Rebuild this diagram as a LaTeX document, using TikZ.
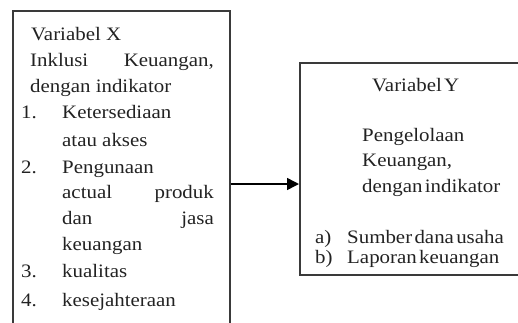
\documentclass[tikz,border=0pt]{standalone}
\usepackage{fontspec}
\setmainfont[FakeStretch=1.1]{Liberation Serif}
\usetikzlibrary{arrows.meta}
\definecolor{boxline}{HTML}{3A3A3A}
\definecolor{txt}{HTML}{222222}
\newcommand\tightsp{\spaceskip=2.3pt plus 1pt\relax}
\tikzset{
  frame/.style={draw=boxline, line width=1.5pt, rectangle, inner sep=0pt, anchor=north west},
  txtl/.style={anchor=base west, inner sep=0pt, text=txt, font=\fontsize{19}{22}\selectfont},
  txtr/.style={anchor=base east, inner sep=0pt, text=txt, font=\fontsize{19}{22}\selectfont},
  tight/.style={txtl},
  link/.style={draw=black, line width=1.5pt, -{Triangle[length=12pt,width=12pt]}}
}
\begin{document}
\begin{tikzpicture}[x=1pt,y=-1pt]
\useasboundingbox (0,0) rectangle (518,322);
\clip (0,0) rectangle (518,322);
% boxes
\node[frame, minimum width=217pt, minimum height=340pt] (X) at (12,10) {};
\node[frame, minimum width=240pt, minimum height=212pt] (Y) at (299,62) {};
% arrow
\coordinate (arr) at (0,184);
\draw[link] (X.east |- arr) -- (Y.west |- arr);
% left box text
\node[txtl] (x1) at (31,40) {Variabel X};
\node[txtl] (x2a) at (30,66) {Inklusi};
\node[txtr] (x2b) at (214,66) {Keuangan,};
\node[txtl] (x3) at (30,92) {dengan indikator};
\node[txtl] (n1) at (21,118) {1.};
\node[txtl] (i1a) at (62,118) {Ketersediaan};
\node[txtl] (i1b) at (62,146) {atau akses};
\node[txtl] (n2) at (21,173) {2.};
\node[txtl] (i2a) at (62,173) {Pengunaan};
\node[txtl] (i2b) at (62,198) {actual};
\node[txtr] (i2c) at (214,198) {produk};
\node[txtl] (i2d) at (62,224) {dan};
\node[txtr] (i2e) at (214,224) {jasa};
\node[txtl] (i2f) at (62,250) {keuangan};
\node[txtl] (n3) at (21,277) {3.};
\node[txtl] (i3) at (62,277) {kualitas};
\node[txtl] (n4) at (21,306) {4.};
\node[txtl] (i4) at (62,306) {kesejahteraan};
% right box text
\node[tight] (y1) at (372,91) {\tightsp Variabel Y};
\node[tight] (y2) at (362,141) {Pengelolaan};
\node[tight] (y3) at (362,166) {Keuangan,};
\node[tight] (y4) at (362,192) {\tightsp dengan indikator};
\node[tight] (ya) at (315,243) {a)};
\node[tight] (yat) at (347,243) {\tightsp Sumber dana usaha};
\node[tight] (yb) at (315,263) {b)};
\node[tight] (ybt) at (347,263) {\tightsp Laporan keuangan};
\end{tikzpicture}
\end{document}
